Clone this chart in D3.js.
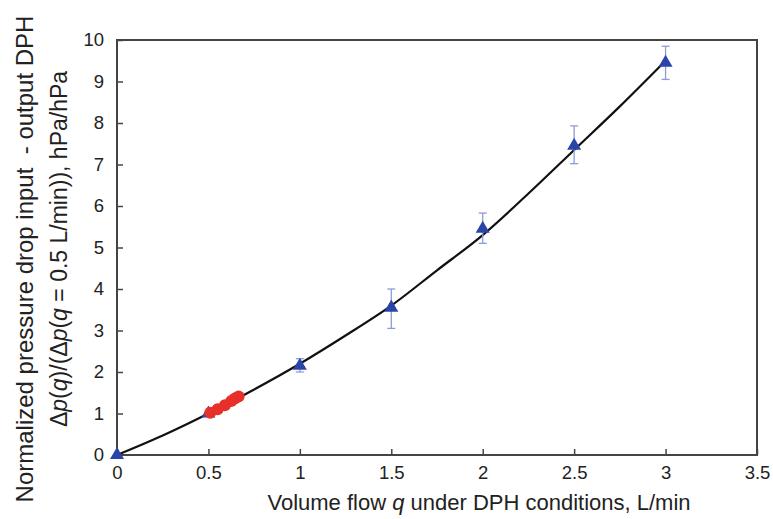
<!DOCTYPE html>
<html>
<head>
<meta charset="utf-8">
<script src="https://cdn.jsdelivr.net/npm/d3@7"></script>
<style>
  body { margin: 0; background: #fff; }
  text { font-family: "Liberation Sans", Arial, sans-serif; fill: #222; }
</style>
</head>
<body>
<div id="chart"></div>
<script>
// measured points (triangles)
let flowQ = [0, 0.5, 1, 1.5, 2, 2.5, 3];
let normDp = [0, 1.0, 2.15, 3.55, 5.45, 7.45, 9.45];
let errLow = [0, 1.0, 2.0, 3.05, 5.1, 7.02, 9.05];
let errHigh = [0, 1.0, 2.32, 4.0, 5.83, 7.93, 9.85];

// red points
let redQ = [0.51, 0.55, 0.59, 0.625, 0.645, 0.665];
let redDp = [1.02, 1.1, 1.2, 1.3, 1.36, 1.41];

// fitted curve
let fitQ = [0, 0.25, 0.5, 0.75, 1, 1.25, 1.5, 1.75, 2, 2.25, 2.5, 2.75, 3];
let fitDp = [0, 0.47, 1.0, 1.58, 2.2, 2.88, 3.6, 4.45, 5.3, 6.3, 7.35, 8.4, 9.5];

let xTicks = [0, 0.5, 1, 1.5, 2, 2.5, 3, 3.5];
let yTicks = [0, 1, 2, 3, 4, 5, 6, 7, 8, 9, 10];

let width = 773, height = 519;
let margin = {top: 40, right: 16, bottom: 64, left: 117};
let innerW = width - margin.left - margin.right;
let innerH = height - margin.top - margin.bottom;

let svg = d3.select("#chart")
  .append("svg")
    .attr("width", width)
    .attr("height", height);

let g = svg.append("g")
  .attr("transform", "translate(" + margin.left + "," + margin.top + ")");

let x = d3.scaleLinear().domain([0, 3.5]).range([0, innerW]);
let y = d3.scaleLinear().domain([0, 10]).range([innerH, 0]);

// axes with inward ticks
let xAxis = g.append("g")
  .attr("transform", "translate(0," + innerH + ")")
  .call(d3.axisBottom(x).tickValues(xTicks).tickSize(-6).tickPadding(11).tickFormat(d3.format("")));
let yAxis = g.append("g")
  .call(d3.axisLeft(y).tickValues(yTicks).tickSize(-6).tickPadding(13));

[xAxis, yAxis].forEach(a => {
  a.select(".domain").remove();
  a.selectAll("line").attr("stroke", "#444").attr("stroke-width", 1.5);
  a.selectAll("text").style("font-size", "18.5px").style("fill", "#222")
    .style("font-family", "'Liberation Sans', Arial, sans-serif");
});

// frame
g.append("rect")
  .attr("x", 0).attr("y", 0)
  .attr("width", innerW).attr("height", innerH)
  .attr("fill", "none")
  .attr("stroke", "#444")
  .attr("stroke-width", 2);

// fit line
let line = d3.line()
  .x((d, i) => x(fitQ[i]))
  .y((d, i) => y(fitDp[i]))
  .curve(d3.curveCatmullRom);
g.append("path")
  .datum(fitQ)
  .attr("d", line)
  .attr("fill", "none")
  .attr("stroke", "#111")
  .attr("stroke-width", 2.2);

// error bars
let errColor = "#8d9bd8";
flowQ.forEach((q, i) => {
  if (errHigh[i] - errLow[i] < 0.05) return;
  g.append("line")
    .attr("x1", x(q)).attr("x2", x(q))
    .attr("y1", y(errLow[i])).attr("y2", y(errHigh[i]))
    .attr("stroke", errColor).attr("stroke-width", 1.3);
  [errLow[i], errHigh[i]].forEach(v => {
    g.append("line")
      .attr("x1", x(q) - 4).attr("x2", x(q) + 4)
      .attr("y1", y(v)).attr("y2", y(v))
      .attr("stroke", errColor).attr("stroke-width", 1.3);
  });
});

// triangles
g.selectAll(".tri")
  .data(flowQ)
  .enter()
  .append("path")
    .attr("class", "tri")
    .attr("d", d3.symbol().type(d3.symbolTriangle).size(85))
    .attr("transform", (d, i) => "translate(" + x(d) + "," + y(normDp[i]) + ")")
    .attr("fill", "#2a44a8");

// red dots
g.selectAll(".dot")
  .data(redQ)
  .enter()
  .append("circle")
    .attr("class", "dot")
    .attr("cx", d => x(d))
    .attr("cy", (d, i) => y(redDp[i]))
    .attr("r", 6)
    .attr("fill", "#e8302a");

// axis titles
let xt = svg.append("text")
  .attr("x", 479)
  .attr("y", 510)
  .attr("text-anchor", "middle")
  .style("font-size", "22px");
xt.append("tspan").text("Volume flow ");
xt.append("tspan").style("font-style", "italic").text("q");
xt.append("tspan").text(" under DPH conditions, L/min");

svg.append("text")
  .attr("transform", "translate(33,259) rotate(-90)")
  .attr("text-anchor", "middle")
  .style("font-size", "24px")
  .style("white-space", "pre")
  .text("Normalized pressure drop input  - output DPH");

let yt = svg.append("text")
  .attr("transform", "translate(67,249) rotate(-90)")
  .attr("text-anchor", "middle")
  .style("font-size", "23px");
yt.append("tspan").text("\u0394");
yt.append("tspan").style("font-style", "italic").text("p");
yt.append("tspan").text("(");
yt.append("tspan").style("font-style", "italic").text("q");
yt.append("tspan").text(")/(\u0394");
yt.append("tspan").style("font-style", "italic").text("p");
yt.append("tspan").text("(");
yt.append("tspan").style("font-style", "italic").text("q");
yt.append("tspan").text(" = 0.5 L/min)), hPa/hPa");
</script>
</body>
</html>
